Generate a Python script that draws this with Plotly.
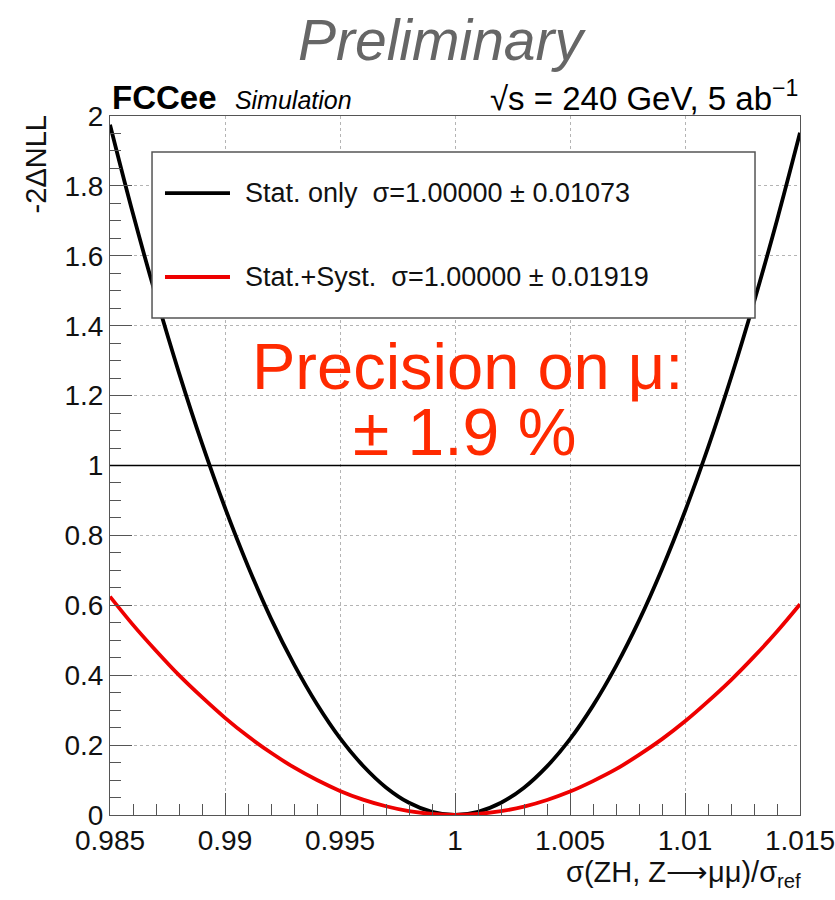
import plotly.graph_objects as go

# Scan points of the normalised cross-section ratio
mu = [0.985, 0.986, 0.987, 0.988, 0.989, 0.990, 0.991, 0.992, 0.993, 0.994,
      0.995, 0.996, 0.997, 0.998, 0.999, 1.000, 1.001, 1.002, 1.003, 1.004,
      1.005, 1.006, 1.007, 1.008, 1.009, 1.010, 1.011, 1.012, 1.013, 1.014, 1.015]

# -2 Delta NLL, statistical uncertainty only
nll_stat = [1.975, 1.720, 1.484, 1.265, 1.063, 0.879, 0.712, 0.562, 0.431, 0.317,
            0.220, 0.141, 0.079, 0.035, 0.009, 0.000, 0.009, 0.035, 0.078, 0.139,
            0.217, 0.313, 0.426, 0.556, 0.704, 0.869, 1.051, 1.251, 1.468, 1.702, 1.952]

# -2 Delta NLL, statistical + systematic uncertainties
nll_syst = [0.625, 0.544, 0.470, 0.400, 0.337, 0.278, 0.225, 0.178, 0.136, 0.100,
            0.069, 0.044, 0.025, 0.011, 0.003, 0.000, 0.003, 0.011, 0.024, 0.043,
            0.067, 0.097, 0.131, 0.172, 0.217, 0.268, 0.325, 0.386, 0.453, 0.525, 0.603]

series_names = ["Stat. only  \u03c3=1.00000 \u00b1 0.01073",
                "Stat.+Syst.  \u03c3=1.00000 \u00b1 0.01919"]
series_colors = ["#000000", "#ee0000"]

x_ticks = [0.985, 0.99, 0.995, 1.0, 1.005, 1.01, 1.015]
x_tick_text = ["0.985", "0.99", "0.995", "1", "1.005", "1.01", "1.015"]
y_ticks = [0, 0.2, 0.4, 0.6, 0.8, 1.0, 1.2, 1.4, 1.6, 1.8, 2.0]
y_tick_text = ["0", "0.2", "0.4", "0.6", "0.8", "1", "1.2", "1.4", "1.6", "1.8", "2"]

FONT = "Liberation Sans, Arial, Helvetica, sans-serif"
AX = "#555555"

fig = go.Figure()
for vals, name, col in zip([nll_stat, nll_syst], series_names, series_colors):
    fig.add_trace(go.Scatter(x=mu, y=vals, mode="lines", name=name,
                             line=dict(color=col, width=3.8, shape="spline"),
                             showlegend=False, hoverinfo="skip"))

axis_common = dict(showline=True, mirror=True, linecolor=AX, linewidth=1,
                   ticks="inside", ticklen=22, tickcolor=AX, tickwidth=1,
                   showgrid=True, gridcolor="#b4b4b4", griddash="dot", gridwidth=1,
                   zeroline=False, automargin=False, ticklabeloverflow="allow",
                   tickfont=dict(family=FONT, size=28, color="#111111"))

fig.update_xaxes(range=[0.985, 1.015], tickvals=x_ticks, ticktext=x_tick_text,
                 minor=dict(ticks="inside", ticklen=11, dtick=0.001, tickcolor=AX,
                            showgrid=False),
                 **axis_common)
fig.update_yaxes(range=[0, 2], tickvals=y_ticks, ticktext=y_tick_text,
                 minor=dict(ticks="inside", ticklen=11, dtick=0.05, tickcolor=AX,
                            showgrid=False),
                 **axis_common)

shapes = [
    # reference line at -2 Delta NLL = 1
    dict(type="line", xref="paper", yref="y", x0=0, x1=1, y0=1, y1=1,
         line=dict(color="#000000", width=1.5), layer="above"),
    # legend frame
    dict(type="rect", xref="paper", yref="paper", x0=0.0609, x1=0.9348,
         y0=0.711, y1=0.9485, fillcolor="#ffffff",
         line=dict(color=AX, width=1.5), layer="above"),
]
legend_rows = [0.8898, 0.7697]
for yrow, col in zip(legend_rows, series_colors):
    shapes.append(dict(type="line", xref="paper", yref="paper", x0=0.0797, x1=0.1739,
                       y0=yrow, y1=yrow, line=dict(color=col, width=3.8), layer="above"))

annotations = []
for yrow, name in zip(legend_rows, series_names):
    annotations.append(dict(xref="paper", yref="paper", x=0.1928, y=yrow,
                            xanchor="left", yanchor="middle", showarrow=False,
                            text=name, font=dict(family=FONT, size=27, color="#111111")))

annotations += [
    dict(xref="paper", yref="paper", x=0.4826, y=1.1087, xanchor="center",
         yanchor="middle", showarrow=False, text="<i>Preliminary</i>",
         font=dict(family=FONT, size=57, color="#666666")),
    dict(xref="paper", yref="paper", x=0.0, y=1.027, xanchor="left",
         yanchor="middle", showarrow=False,
         text="<b>FCCee</b>  <i><span style='font-size:25px'>Simulation</span></i>",
         font=dict(family=FONT, size=33, color="#000000")),
    dict(xref="paper", yref="paper", x=1.0, y=1.029, xanchor="right",
         yanchor="middle", showarrow=False,
         text="\u221as = 240 GeV, 5 ab<sup>\u22121</sup>",
         font=dict(family=FONT, size=33, color="#000000")),
    dict(xref="paper", yref="paper", x=0.5174, y=0.641, xanchor="center",
         yanchor="middle", showarrow=False, text="Precision on \u03bc:",
         font=dict(family=FONT, size=65, color="#ff2a00")),
    dict(xref="paper", yref="paper", x=0.514, y=0.548, xanchor="center",
         yanchor="middle", showarrow=False, text="\u00b1 1.9 %",
         font=dict(family=FONT, size=66, color="#ff2a00")),
    dict(xref="paper", yref="paper", x=-0.108, y=1.0044, xanchor="center",
         yanchor="top", showarrow=False, textangle=-90, text="-2\u0394NLL",
         font=dict(family=FONT, size=29, color="#111111")),
    dict(xref="paper", yref="paper", x=1.004, y=-0.084, xanchor="right",
         yanchor="middle", showarrow=False,
         text="\u03c3(ZH, Z\u27f6\u03bc\u03bc)/\u03c3<sub>ref</sub>",
         font=dict(family=FONT, size=29, color="#111111")),
]

fig.update_layout(width=835, height=900, margin=dict(l=110, r=35, t=116, b=85),
                  paper_bgcolor="#ffffff", plot_bgcolor="#ffffff",
                  shapes=shapes, annotations=annotations, showlegend=False)

fig.write_html("out.html")
